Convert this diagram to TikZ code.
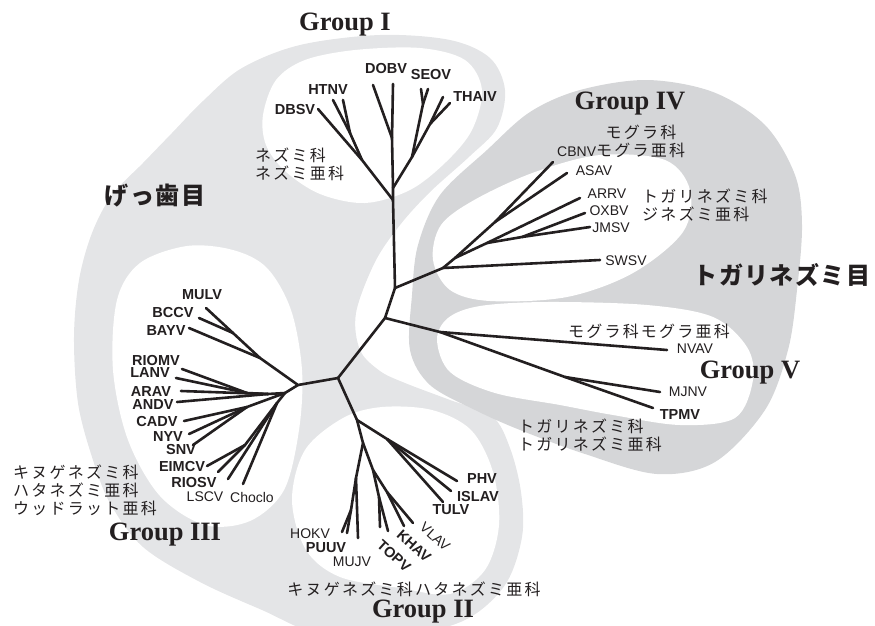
\documentclass[tikz,border=0pt]{standalone}
\usepackage{fontspec}
\setmainfont{Liberation Serif}
\newfontfamily\labfont{Liberation Sans}
\newfontfamily\jpfont[LetterSpace=14]{Noto Sans CJK JP}
\newfontfamily\jpbigfont[LetterSpace=6]{Noto Sans CJK JP}
\definecolor{ink}{HTML}{231F20}
\definecolor{rodent}{HTML}{E4E5E7}
\definecolor{shrew}{HTML}{D5D6D8}
\tikzset{
  br/.style={draw=ink, line width=2.6pt, line cap=round, line join=round},
  bl/.style={font=\labfont\bfseries\fontsize{14.5}{15}\selectfont, inner sep=0pt, text=ink},
  rl/.style={font=\labfont\fontsize{14}{15}\selectfont, inner sep=0pt, text=ink},
  grp/.style={font=\bfseries\fontsize{26.5}{28}\selectfont, inner sep=0pt, text=ink},
  jl/.style={font=\jpfont\fontsize{16}{18}\selectfont, inner sep=0pt, align=left, text=ink},
  jbig/.style={font=\jpbigfont\bfseries\fontsize{24}{26}\selectfont, inner sep=0pt, text=ink},
  blob/.style={smooth cycle, tension=0.55}
}
\begin{document}
\begin{tikzpicture}[x=1pt,y=-1pt]
\useasboundingbox (0,0) rectangle (875,626);
% ---------- background regions ----------
\fill[rodent] plot[blob] coordinates {
 (300,45) (380,35) (450,40) (490,58) (505,90) (497,128) (470,156) (430,192)
 (400,225) (375,262) (356,313) (360,350) (380,371) (405,383) (450,400)
 (492,416) (510,448) (521,492) (522,537) (505,585) (465,620) (400,636)
 (320,634) (262,610) (200,582) (143,547) (110,503) (92,457) (78,403)
 (74,337) (79,280) (92,233) (112,195) (143,163) (172,133) (203,101) (242,68)};
\fill[shrew] plot[blob] coordinates {
 (412,295) (418,245) (440,195) (487,150) (530,112) (580,90) (647,80)
 (713,92) (765,125) (795,175) (802,225) (797,290) (788,350) (765,410)
 (715,462) (657,474) (585,454) (520,430) (475,410) (430,385) (410,350)};
% Group I hole
\fill[white] plot[blob] coordinates {
 (263,115) (276,80) (305,60) (355,50) (420,48) (465,60) (482,90) (472,130)
 (446,162) (410,190) (365,203) (320,194) (285,171) (266,145)};
% Group III hole
\fill[white] plot[blob] coordinates {
 (117,300) (140,263) (187,246) (233,250) (267,268) (291,310) (302,370)
 (299,430) (284,490) (250,521) (205,525) (160,496) (128,440) (113,370)};
% Group II hole
\fill[white] plot[blob] coordinates {
 (343,418) (382,407) (432,410) (471,430) (493,472) (499,525) (485,570)
 (450,594) (400,588) (340,577) (306,550) (292,500) (305,450)};
% Group IV hole
\fill[white] plot[blob] coordinates {
 (433,260) (441,225) (476,199) (535,172) (600,155) (665,160) (690,190)
 (683,232) (633,273) (567,297) (490,301) (450,290)};
% Group V hole
\fill[white] plot[blob] coordinates {
 (437,340) (448,318) (480,306) (547,302) (647,305) (713,317) (747,347)
 (753,380) (735,418) (680,425) (613,415) (560,405) (495,393) (450,372)};

% ---------- tree: internal nodes ----------
\coordinate (A) at (395,288);
\coordinate (B) at (385,318);
\coordinate (C) at (338,378);
% Group I
\coordinate (g1a) at (393,200);
\coordinate (g1b) at (393,188);
\coordinate (g1c) at (392,138);
\coordinate (h1) at (362,160);
\coordinate (h2) at (350,133);
\coordinate (r1) at (412,157);
\coordinate (s1) at (423,104);
\coordinate (t1) at (430,124);
\coordinate (dbsv) at (318,109);
\coordinate (htnv1) at (333,100);
\coordinate (htnv2) at (343,100);
\coordinate (dobv1) at (373,85);
\coordinate (dobv2) at (393,84);
\coordinate (seov1) at (421,89);
\coordinate (seov2) at (428,89);
\coordinate (thaiv1) at (443,97);
\coordinate (thaiv2) at (450,103);
% Group IV
\coordinate (n4a) at (443,268);
\coordinate (n4b) at (455,258);
\coordinate (c1) at (495,222);
\coordinate (a1) at (487,243);
\coordinate (o1) at (522,237);
\coordinate (cbnv) at (553,162);
\coordinate (asav) at (567,173);
\coordinate (arrv) at (580,198);
\coordinate (oxbv) at (585,213);
\coordinate (jmsv) at (590,227);
\coordinate (swsv) at (600,260);
% Group V
\coordinate (v1) at (440,332);
\coordinate (m1) at (565,377);
\coordinate (nvav) at (667,350);
\coordinate (mjnv) at (660,392);
\coordinate (tpmv) at (653,408);
% Group III
\coordinate (D) at (298,385);
\coordinate (E) at (285,393);
\coordinate (j1) at (260,358);
\coordinate (j2) at (233,333);
\coordinate (F) at (247,393);
\coordinate (F2) at (268,394);
\coordinate (k1) at (247,407);
\coordinate (q1) at (277,403);
\coordinate (q2) at (245,445);
\coordinate (mulv) at (206,308);
\coordinate (bccv) at (199,318);
\coordinate (bayv) at (189,328);
\coordinate (riomv) at (182,369);
\coordinate (lanv) at (176,378);
\coordinate (arav) at (181,391);
\coordinate (andv) at (177,402);
\coordinate (cadv) at (184,421);
\coordinate (nyv) at (189,434);
\coordinate (snv) at (193,445);
\coordinate (eimcv) at (207,466);
\coordinate (riosv) at (218,472);
\coordinate (lscv) at (228,479);
\coordinate (choclo) at (243,484);
% Group II
\coordinate (G) at (357,420);
\coordinate (H) at (363,443);
\coordinate (I) at (356,478);
\coordinate (i2) at (351,510);
\coordinate (J) at (373,470);
\coordinate (jl) at (379,497);
\coordinate (jr) at (387,492);
\coordinate (P1) at (387,439);
\coordinate (hokv) at (342,532);
\coordinate (puuv) at (347,533);
\coordinate (mujv) at (358,538);
\coordinate (topv1) at (380,527);
\coordinate (topv2) at (388,531);
\coordinate (khav) at (404,526);
\coordinate (vlav) at (413,523);
\coordinate (phv) at (457,481);
\coordinate (islav) at (451,491);
\coordinate (tulv) at (443,502);

% ---------- tree: branches ----------
\draw[br] (A) -- (B) -- (C);
% Group I
\draw[br] (A) -- (g1a) -- (g1b) -- (g1c) -- (dobv2);
\draw[br] (g1c) -- (dobv1);
\draw[br] (g1a) -- (h1) -- (dbsv);
\draw[br] (h1) -- (h2) -- (htnv1);
\draw[br] (h2) -- (htnv2);
\draw[br] (g1b) -- (r1) -- (s1) -- (seov1);
\draw[br] (s1) -- (seov2);
\draw[br] (r1) -- (t1) -- (thaiv1);
\draw[br] (t1) -- (thaiv2);
% Group IV
\draw[br] (A) -- (n4a) -- (swsv);
\draw[br] (n4a) -- (n4b) -- (c1) -- (cbnv);
\draw[br] (c1) -- (asav);
\draw[br] (n4b) -- (a1) -- (arrv);
\draw[br] (a1) -- (o1) -- (oxbv);
\draw[br] (o1) -- (jmsv);
% Group V
\draw[br] (B) -- (v1) -- (nvav);
\draw[br] (v1) -- (m1) -- (tpmv);
\draw[br] (m1) -- (mjnv);
% Group III
\draw[br] (C) -- (D) -- (j1) -- (j2) -- (mulv);
\draw[br] (j2) -- (bccv);
\draw[br] (j1) -- (bayv);
\draw[br] (D) -- (E) -- (F2) -- (F) -- (riomv);
\draw[br] (F) -- (lanv);
\draw[br] (F2) -- (arav);
\draw[br] (F2) -- (andv);
\draw[br] (E) -- (k1) -- (cadv);
\draw[br] (k1) -- (nyv);
\draw[br] (k1) -- (snv);
\draw[br] (E) -- (q1) -- (q2) -- (eimcv);
\draw[br] (q2) -- (riosv);
\draw[br] (q1) -- (lscv);
\draw[br] (q1) -- (choclo);
% Group II
\draw[br] (C) -- (G) -- (H) -- (I) -- (mujv);
\draw[br] (I) -- (i2) -- (puuv);
\draw[br] (i2) -- (hokv);
\draw[br] (H) -- (J) -- (jl) -- (topv1);
\draw[br] (jl) -- (topv2);
\draw[br] (J) -- (jr) -- (khav);
\draw[br] (jr) -- (vlav);
\draw[br] (G) -- (P1) -- (phv);
\draw[br] (P1) -- (islav);
\draw[br] (P1) -- (tulv);

% ---------- labels ----------
% Group I
\node[grp] (gI) at (345,25) {Group I};
\node[bl] (lDBSV) at (295,110) {DBSV};
\node[bl] (lHTNV) at (328,90) {HTNV};
\node[bl] (lDOBV) at (386,69) {DOBV};
\node[bl] (lSEOV) at (431,75) {SEOV};
\node[bl] (lTHAIV) at (475,97) {THAIV};
\node[jl, anchor=north west] (jI) at (255,148) {ネズミ科\\ネズミ亜科};
\node[jbig] (jRod) at (155,196) {げっ歯目};
% Group IV
\node[grp] (gIV) at (630,104) {Group IV};
\node[jl] (jMog) at (641,132) {モグラ科};
\node[rl, anchor=west] (lCBNV) at (557,150) {CBNV\jpfont\fontsize{16}{18}\selectfont モグラ亜科};
\node[rl] (lASAV) at (594,171) {ASAV};
\node[rl] (lARRV) at (607,194) {ARRV};
\node[rl] (lOXBV) at (609,211) {OXBV};
\node[rl] (lJMSV) at (611,228) {JMSV};
\node[jl, anchor=north west] (jIV) at (642,189) {トガリネズミ科\\ジネズミ亜科};
\node[rl] (lSWSV) at (626,261) {SWSV};
\node[jbig] (jShr) at (782,275) {トガリネズミ目};
% Group V
\node[jl] (jV) at (649,331) {モグラ科モグラ亜科};
\node[rl] (lNVAV) at (695,349) {NVAV};
\node[grp] (gV) at (750,373) {Group V};
\node[rl] (lMJNV) at (688,392) {MJNV};
\node[bl] (lTPMV) at (680,415) {TPMV};
\node[jl, anchor=north west] (jV2) at (518,419) {トガリネズミ科\\トガリネズミ亜科};
% Group III
\node[bl] (lMULV) at (202,295) {MULV};
\node[bl] (lBCCV) at (173,313) {BCCV};
\node[bl] (lBAYV) at (166,331) {BAYV};
\node[bl] (lRIOMV) at (156,361) {RIOMV};
\node[bl] (lLANV) at (150,373) {LANV};
\node[bl] (lARAV) at (151,392) {ARAV};
\node[bl] (lANDV) at (153,405) {ANDV};
\node[bl] (lCADV) at (157,422) {CADV};
\node[bl] (lNYV) at (168,437) {NYV};
\node[bl] (lSNV) at (181,450) {SNV};
\node[bl] (lEIMCV) at (182,467) {EIMCV};
\node[bl] (lRIOSV) at (194,483) {RIOSV};
\node[rl] (lLSCV) at (205,497) {LSCV};
\node[rl] (lChoclo) at (252,497) {Choclo};
\node[jl, anchor=north west] (jIII) at (13,465) {キヌゲネズミ科\\ハタネズミ亜科\\ウッドラット亜科};
\node[grp] (gIII) at (165,535) {Group III};
% Group II
\node[rl] (lHOKV) at (310,534) {HOKV};
\node[bl] (lPUUV) at (326,548) {PUUV};
\node[rl] (lMUJV) at (352,562) {MUJV};
\node[bl, rotate=-42] (lTOPV) at (394,556) {TOPV};
\node[bl, rotate=-42] (lKHAV) at (414,546) {KHAV};
\node[rl, rotate=-42] (lVLAV) at (435,537) {VLAV};
\node[bl] (lPHV) at (482,479) {PHV};
\node[bl] (lISLAV) at (478,497) {ISLAV};
\node[bl] (lTULV) at (451,510) {TULV};
\node[jl] (jII) at (414,589) {キヌゲネズミ科ハタネズミ亜科};
\node[grp] (gII) at (423,612) {Group II};
\end{tikzpicture}
\end{document}
